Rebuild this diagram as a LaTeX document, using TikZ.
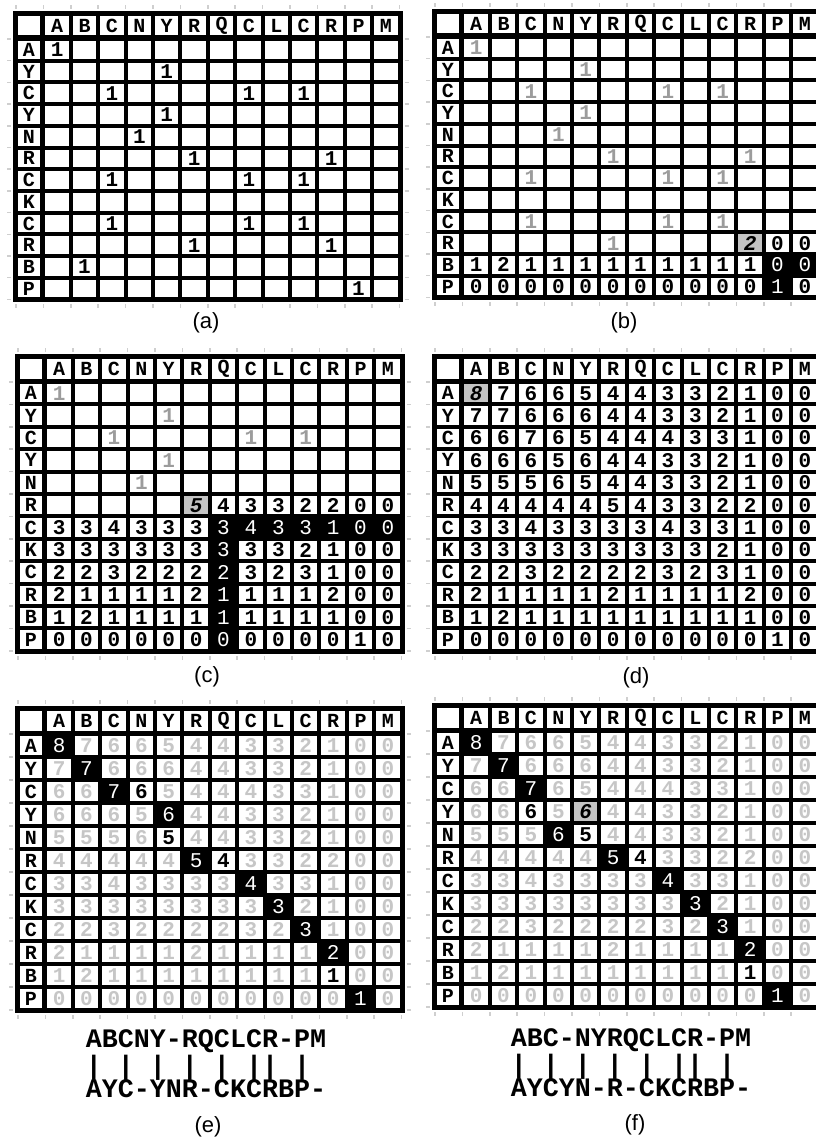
\documentclass[tikz,border=0pt]{standalone}
\usepackage{fontspec}
\newfontfamily\gridfont{Liberation Mono}
\newfontfamily\capfont{Liberation Sans}
\usepackage{xcolor}
\definecolor{dimtext}{HTML}{9C9C9C}
\definecolor{fainttext}{HTML}{C6C6C6}
\definecolor{hicell}{HTML}{C4C4C4}
\definecolor{tickgray}{HTML}{CFCFCF}

% filled score matrix, row by row (AYCYNRCKCRBP x ABCNYRQCLCRPM)
\def\scores{8,7,6,6,5,4,4,3,3,2,1,0,0,%
7,7,6,6,6,4,4,3,3,2,1,0,0,%
6,6,7,6,5,4,4,4,3,3,1,0,0,%
6,6,6,5,6,4,4,3,3,2,1,0,0,%
5,5,5,6,5,4,4,3,3,2,1,0,0,%
4,4,4,4,4,5,4,3,3,2,2,0,0,%
3,3,4,3,3,3,3,4,3,3,1,0,0,%
3,3,3,3,3,3,3,3,3,2,1,0,0,%
2,2,3,2,2,2,2,3,2,3,1,0,0,%
2,1,1,1,1,2,1,1,1,1,2,0,0,%
1,2,1,1,1,1,1,1,1,1,1,0,0,%
0,0,0,0,0,0,0,0,0,0,0,1,0}

% #1 name, #2 left, #3 top, #4 row height, #5 cell codes
\newcommand\drawgrid[5]{%
  \pgfmathsetmacro\gh{6+25+12*#4}
  \fill (#2,#3) rectangle ++(389.6,\gh);
  \foreach \col in {0,...,14}{
    \draw[gridtick] ({#2+3+\col*27.4},{#3-2}) -- ++(0,-4);
    \draw[gridtick] ({#2+3+\col*27.4},{#3+\gh+2}) -- ++(0,4);
  }
  \foreach \k in {0,...,12}{
    \draw[gridtick] ({#2-2},{#3+28+\k*#4}) -- ++(-4,0);
    \draw[gridtick] ({#2+391.6},{#3+28+\k*#4}) -- ++(4,0);
  }
  \node[head, minimum width=21.9pt] (#1-0-0) at ({#2+15.95},{#3+14.75}) {};
  \foreach \lett [count=\col] in {A,B,C,N,Y,R,Q,C,L,C,R,P,M}
    \node[head] (#1-0-\col) at ({#2+3+(\col+0.5)*27.4},{#3+14.75}) {\lett};
  \foreach \lett [count=\row] in {A,Y,C,Y,N,R,C,K,C,R,B,P}
    \node[head, minimum width=21.9pt, minimum height=#4-4] (#1-\row-0) at ({#2+15.95},{#3+28+(\row-0.5)*#4}) {\lett};
  \foreach \codes [count=\row] in {#5}{
    \foreach \code [count=\col] in \codes{
      \pgfmathtruncatemacro\val{{\scores}[(\row-1)*13+\col-1]}
      \node (#1-\row-\col) at ({#2+3+(\col+0.5)*27.4},{#3+28+(\row-0.5)*#4}) [cell, minimum height=#4-4, cell-\code];
    }
  }
}

\begin{document}
\begin{tikzpicture}[x=1pt, y=-1pt,
  gridtick/.style={draw=tickgray, line width=1.5pt},
  head/.style={rectangle, inner sep=0pt, fill=white, minimum width=23.4pt, minimum height=19.5pt, font=\gridfont\bfseries\fontsize{20}{20}\selectfont},
  cell/.style={rectangle, inner sep=0pt, fill=white, minimum width=23.4pt, font=\gridfont\bfseries\fontsize{21}{21}\selectfont},
  cell-o/.style={node contents={}},
  cell-a/.style={node contents=1},
  cell-m/.style={text=dimtext, node contents=1},
  cell-n/.style={node contents=\val},
  cell-h/.style={fill=hicell, font=\gridfont\bfseries\itshape\fontsize{21}{21}\selectfont, node contents=\val},
  cell-k/.style={fill=black, text=white, font=\gridfont\fontsize{21}{21}\selectfont, node contents=\val},
  cell-g/.style={text=fainttext, node contents=\val},
  seq/.style={inner sep=0pt, font=\gridfont\bfseries\fontsize{26.7}{27}\selectfont},
  panelcap/.style={font=\capfont\fontsize{22}{22}\selectfont}
]
\useasboundingbox (0,0) rectangle (816,1140);
\clip (0,0) rectangle (816,1140);

% (a) identity matches
\drawgrid{a}{13}{11}{21.7}{%
{a,o,o,o,o,o,o,o,o,o,o,o,o},
{o,o,o,o,a,o,o,o,o,o,o,o,o},
{o,o,a,o,o,o,o,a,o,a,o,o,o},
{o,o,o,o,a,o,o,o,o,o,o,o,o},
{o,o,o,a,o,o,o,o,o,o,o,o,o},
{o,o,o,o,o,a,o,o,o,o,a,o,o},
{o,o,a,o,o,o,o,a,o,a,o,o,o},
{o,o,o,o,o,o,o,o,o,o,o,o,o},
{o,o,a,o,o,o,o,a,o,a,o,o,o},
{o,o,o,o,o,a,o,o,o,o,a,o,o},
{o,a,o,o,o,o,o,o,o,o,o,o,o},
{o,o,o,o,o,o,o,o,o,o,o,a,o}}
\node[panelcap] (cap-a) at (206,323) {(a)};

% (b)
\drawgrid{b}{432}{9}{21.7}{%
{m,o,o,o,o,o,o,o,o,o,o,o,o},
{o,o,o,o,m,o,o,o,o,o,o,o,o},
{o,o,m,o,o,o,o,m,o,m,o,o,o},
{o,o,o,o,m,o,o,o,o,o,o,o,o},
{o,o,o,m,o,o,o,o,o,o,o,o,o},
{o,o,o,o,o,m,o,o,o,o,m,o,o},
{o,o,m,o,o,o,o,m,o,m,o,o,o},
{o,o,o,o,o,o,o,o,o,o,o,o,o},
{o,o,m,o,o,o,o,m,o,m,o,o,o},
{o,o,o,o,o,m,o,o,o,o,h,n,n},
{n,n,n,n,n,n,n,n,n,n,n,k,k},
{n,n,n,n,n,n,n,n,n,n,n,k,n}}
\node[panelcap] (cap-b) at (624,323) {(b)};

% (c)
\drawgrid{c}{15}{354}{22.4}{%
{m,o,o,o,o,o,o,o,o,o,o,o,o},
{o,o,o,o,m,o,o,o,o,o,o,o,o},
{o,o,m,o,o,o,o,m,o,m,o,o,o},
{o,o,o,o,m,o,o,o,o,o,o,o,o},
{o,o,o,m,o,o,o,o,o,o,o,o,o},
{o,o,o,o,o,h,n,n,n,n,n,n,n},
{n,n,n,n,n,n,k,k,k,k,k,k,k},
{n,n,n,n,n,n,k,n,n,n,n,n,n},
{n,n,n,n,n,n,k,n,n,n,n,n,n},
{n,n,n,n,n,n,k,n,n,n,n,n,n},
{n,n,n,n,n,n,k,n,n,n,n,n,n},
{n,n,n,n,n,n,k,n,n,n,n,n,n}}
\node[panelcap] (cap-c) at (207,677) {(c)};

% (d) filled matrix
\drawgrid{d}{432}{354}{22.4}{%
{h,n,n,n,n,n,n,n,n,n,n,n,n},
{n,n,n,n,n,n,n,n,n,n,n,n,n},
{n,n,n,n,n,n,n,n,n,n,n,n,n},
{n,n,n,n,n,n,n,n,n,n,n,n,n},
{n,n,n,n,n,n,n,n,n,n,n,n,n},
{n,n,n,n,n,n,n,n,n,n,n,n,n},
{n,n,n,n,n,n,n,n,n,n,n,n,n},
{n,n,n,n,n,n,n,n,n,n,n,n,n},
{n,n,n,n,n,n,n,n,n,n,n,n,n},
{n,n,n,n,n,n,n,n,n,n,n,n,n},
{n,n,n,n,n,n,n,n,n,n,n,n,n},
{n,n,n,n,n,n,n,n,n,n,n,n,n}}
\node[panelcap] (cap-d) at (636,678) {(d)};

% (e) traceback
\drawgrid{e}{15}{706}{23}{%
{k,g,g,g,g,g,g,g,g,g,g,g,g},
{g,k,g,g,g,g,g,g,g,g,g,g,g},
{g,g,k,n,g,g,g,g,g,g,g,g,g},
{g,g,g,g,k,g,g,g,g,g,g,g,g},
{g,g,g,g,n,g,g,g,g,g,g,g,g},
{g,g,g,g,g,k,n,g,g,g,g,g,g},
{g,g,g,g,g,g,g,k,g,g,g,g,g},
{g,g,g,g,g,g,g,g,k,g,g,g,g},
{g,g,g,g,g,g,g,g,g,k,g,g,g},
{g,g,g,g,g,g,g,g,g,g,k,g,g},
{g,g,g,g,g,g,g,g,g,g,n,g,g},
{g,g,g,g,g,g,g,g,g,g,g,k,g}}
\node[seq] (e-top) at (206,1041) {ABCNY-RQCLCR-PM};
\node[seq, anchor=west, yshift=-27pt] (e-bar) at (e-top.west) {| | | | | || |};
\node[seq, anchor=west, yshift=-48pt] (e-bot) at (e-top.west) {AYC-YNR-CKCRBP-};
\node[panelcap] (cap-e) at (208,1127) {(e)};

% (f) other traceback
\drawgrid{f}{432}{703}{23}{%
{k,g,g,g,g,g,g,g,g,g,g,g,g},
{g,k,g,g,g,g,g,g,g,g,g,g,g},
{g,g,k,g,g,g,g,g,g,g,g,g,g},
{g,g,n,g,h,g,g,g,g,g,g,g,g},
{g,g,g,k,n,g,g,g,g,g,g,g,g},
{g,g,g,g,g,k,n,g,g,g,g,g,g},
{g,g,g,g,g,g,g,k,g,g,g,g,g},
{g,g,g,g,g,g,g,g,k,g,g,g,g},
{g,g,g,g,g,g,g,g,g,k,g,g,g},
{g,g,g,g,g,g,g,g,g,g,k,g,g},
{g,g,g,g,g,g,g,g,g,g,n,g,g},
{g,g,g,g,g,g,g,g,g,g,g,k,g}}
\node[seq] (f-top) at (631,1040) {ABC-NYRQCLCR-PM};
\node[seq, anchor=west, yshift=-27pt] (f-bar) at (f-top.west) {| | | | | || |};
\node[seq, anchor=west, yshift=-48pt] (f-bot) at (f-top.west) {AYCYN-R-CKCRBP-};
\node[panelcap] (cap-f) at (635,1125) {(f)};
\end{tikzpicture}
\end{document}
